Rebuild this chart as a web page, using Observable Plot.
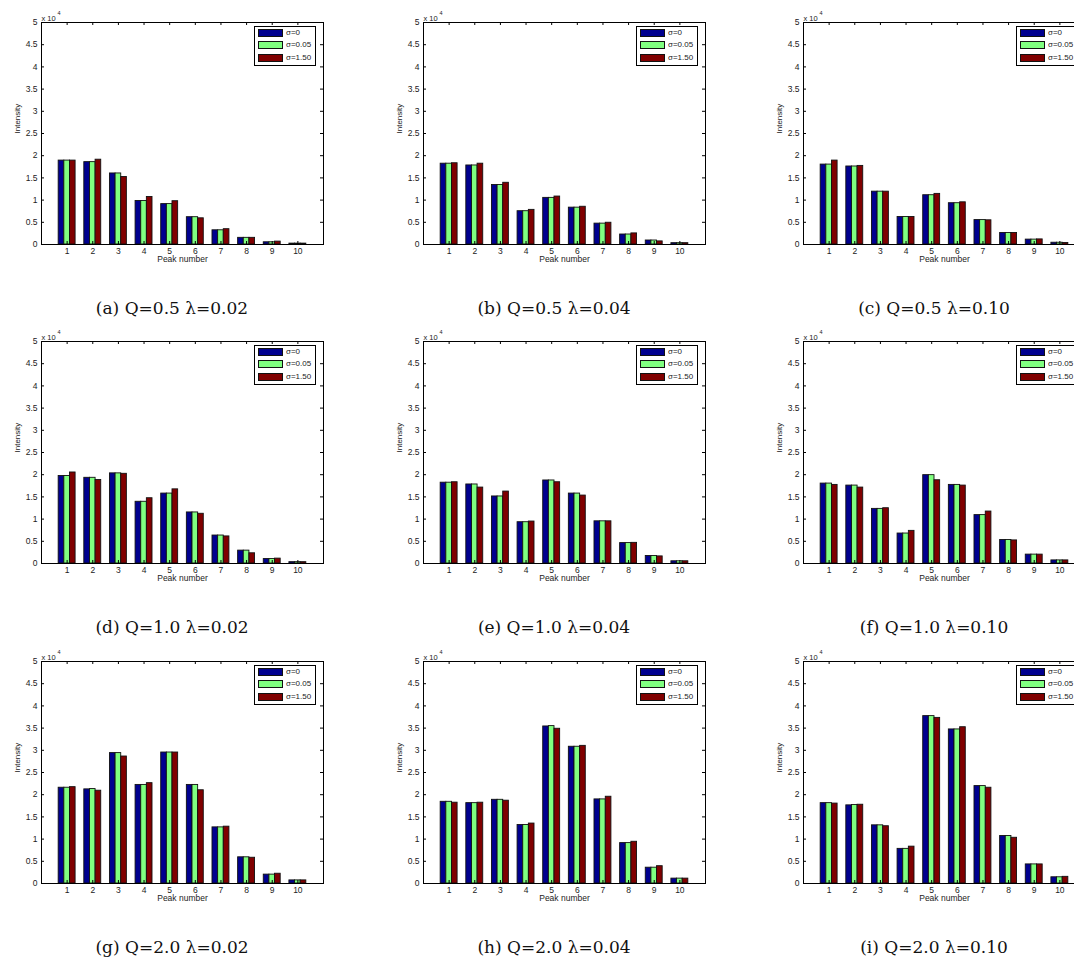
<!DOCTYPE html>
<html><head><meta charset="utf-8">
<script src="https://cdn.jsdelivr.net/npm/d3@7"></script>
<script src="https://cdn.jsdelivr.net/npm/@observablehq/plot@0.6"></script>
<style>
html,body{margin:0;padding:0;background:#fff;overflow:hidden;}
#root{position:relative;width:1074px;height:961px;overflow:hidden;background:#fff;}
.panel{position:absolute;}
.panel svg{max-width:none !important;}
.legend{position:absolute;border:1.5px solid #000;background:#fff;box-sizing:border-box;font-family:"Liberation Sans",Arial,sans-serif;font-size:8px;color:#222;}
.sw{position:absolute;width:25px;height:8px;border:1px solid #111;box-sizing:border-box;}
.lt{position:absolute;line-height:8px;white-space:nowrap;}
.caption{position:absolute;font-family:"DejaVu Serif","Liberation Serif",serif;font-size:17px;white-space:nowrap;transform:translate(-50%,-50%);color:#111;}
</style></head><body><div id="root"></div>
<script>
// ---- data (intensity in units of 10^4) ----
const peaks = [1,2,3,4,5,6,7,8,9,10];
const seriesLabels = ["σ=0","σ=0.05","σ=1.50"];
const seriesColors = ["#00008f","#80ff80","#800000"];
const yTicks = [0,0.5,1,1.5,2,2.5,3,3.5,4,4.5,5];
const yTickLabels = ["0","0.5","1","1.5","2","2.5","3","3.5","4","4.5","5"];
const captions = ["(a)  Q=0.5 λ=0.02","(b)  Q=0.5 λ=0.04","(c)  Q=0.5 λ=0.10",
                  "(d)  Q=1.0 λ=0.02","(e)  Q=1.0 λ=0.04","(f)  Q=1.0 λ=0.10",
                  "(g)  Q=2.0 λ=0.02","(h)  Q=2.0 λ=0.04","(i)  Q=2.0 λ=0.10"];

const a_s0 = [1.89,1.855,1.60,0.98,0.91,0.615,0.32,0.15,0.05,0.02];
const a_s1 = [1.89,1.855,1.60,0.98,0.91,0.615,0.32,0.15,0.05,0.02];
const a_s2 = [1.89,1.91,1.52,1.07,0.975,0.59,0.345,0.15,0.065,0.02];

const b_s0 = [1.82,1.78,1.34,0.75,1.05,0.83,0.47,0.225,0.09,0.03];
const b_s1 = [1.82,1.78,1.34,0.75,1.05,0.83,0.47,0.225,0.09,0.03];
const b_s2 = [1.83,1.82,1.39,0.78,1.08,0.85,0.49,0.25,0.07,0.03];

const c_s0 = [1.80,1.757,1.19,0.62,1.11,0.93,0.55,0.26,0.11,0.04];
const c_s1 = [1.80,1.757,1.19,0.62,1.11,0.93,0.55,0.26,0.11,0.04];
const c_s2 = [1.89,1.77,1.19,0.62,1.14,0.95,0.545,0.26,0.115,0.035];

const d_s0 = [1.97,1.93,2.03,1.39,1.575,1.15,0.63,0.29,0.10,0.03];
const d_s1 = [1.97,1.93,2.03,1.39,1.575,1.15,0.63,0.29,0.10,0.03];
const d_s2 = [2.05,1.88,2.02,1.47,1.67,1.12,0.61,0.23,0.11,0.03];

const e_s0 = [1.82,1.78,1.51,0.93,1.87,1.575,0.95,0.46,0.17,0.05];
const e_s1 = [1.82,1.78,1.51,0.93,1.87,1.575,0.95,0.46,0.17,0.05];
const e_s2 = [1.83,1.71,1.62,0.945,1.83,1.53,0.95,0.465,0.16,0.05];

const f_s0 = [1.80,1.755,1.23,0.675,1.99,1.77,1.09,0.53,0.20,0.07];
const f_s1 = [1.80,1.755,1.23,0.675,1.99,1.77,1.09,0.53,0.20,0.07];
const f_s2 = [1.77,1.71,1.245,0.735,1.875,1.755,1.17,0.52,0.20,0.07];

const g_s0 = [2.157,2.12,2.937,2.22,2.95,2.22,1.264,0.59,0.20,0.07];
const g_s1 = [2.157,2.127,2.937,2.22,2.95,2.22,1.264,0.59,0.20,0.07];
const g_s2 = [2.17,2.09,2.86,2.26,2.95,2.10,1.28,0.58,0.22,0.07];

const h_s0 = [1.84,1.81,1.885,1.317,3.537,3.08,1.894,0.91,0.356,0.11];
const h_s1 = [1.84,1.81,1.885,1.317,3.545,3.08,1.894,0.91,0.356,0.11];
const h_s2 = [1.82,1.82,1.865,1.35,3.485,3.10,1.954,0.94,0.39,0.11];

const i_s0 = [1.81,1.76,1.31,0.78,3.77,3.47,2.194,1.07,0.43,0.14];
const i_s1 = [1.81,1.767,1.31,0.78,3.77,3.47,2.194,1.07,0.43,0.14];
const i_s2 = [1.80,1.774,1.29,0.83,3.73,3.52,2.157,1.03,0.43,0.15];

const panels = [
  [a_s0,a_s1,a_s2],[b_s0,b_s1,b_s2],[c_s0,c_s1,c_s2],
  [d_s0,d_s1,d_s2],[e_s0,e_s1,e_s2],[f_s0,f_s1,f_s2],
  [g_s0,g_s1,g_s2],[h_s0,h_s1,h_s2],[i_s0,i_s1,i_s2]
];

// ---- layout ----
const colLeft = [0, 382, 762];
const rowTop = [0, 319, 639];
const W = 282, H = 222, ML = 41, MT = 22, MR = 12, MB = 30;
const barW = 0.22;
const root = document.getElementById("root");

panels.forEach((series, p) => {
  const col = p % 3, row = Math.floor(p / 3);
  const table = [];
  series.forEach((arr, s) => arr.forEach((v, k) => table.push({peak: peaks[k], s, label: seriesLabels[s], value: v})));
  const chart = Plot.plot({
    width: ML + W + MR, height: MT + H + MB,
    marginLeft: ML, marginTop: MT, marginRight: MR, marginBottom: MB,
    style: {fontFamily: "'Liberation Sans', Arial, sans-serif", fontSize: "8.5px", background: "#fff", color: "#222", overflow: "visible", maxWidth: "none"},
    x: {domain: [0, 11]},
    y: {domain: [0, 5]},
    color: {domain: seriesLabels, range: seriesColors},
    marks: [
      Plot.rectY(table, {
        x1: d => d.peak + (d.s - 1) * barW - barW / 2,
        x2: d => d.peak + (d.s - 1) * barW + barW / 2,
        y1: 0, y2: "value", fill: "label", stroke: "#111", strokeWidth: 0.9
      }),
      Plot.axisX({ticks: peaks, tickSize: 0, tickPadding: 3, label: null, tickFormat: d => String(d)}),
      Plot.axisY({ticks: yTicks, tickSize: 0, tickPadding: 4, label: null, tickFormat: d => yTickLabels[yTicks.indexOf(d)]}),
      Plot.tickX(peaks, {x: d => d, insetTop: H - 3, stroke: "#000"}),
      Plot.tickX(peaks, {x: d => d, insetBottom: H - 3, stroke: "#000"}),
      Plot.tickY(yTicks, {y: d => d, insetRight: W - 3, stroke: "#000"}),
      Plot.tickY(yTicks, {y: d => d, insetLeft: W - 3, stroke: "#000"}),
      Plot.frame({stroke: "#000", strokeWidth: 1}),
      Plot.text(["Intensity"], {text: d => d, frameAnchor: "left", dx: -24, rotate: -90, fontSize: 8}),
      Plot.text(["Peak number"], {text: d => d, frameAnchor: "bottom", dy: 17, fontSize: 8.5}),
      Plot.text(["x 10"], {text: d => d, frameAnchor: "top-left", textAnchor: "start", dy: -7, fontSize: 7.5}),
      Plot.text(["4"], {text: d => d, frameAnchor: "top-left", textAnchor: "start", dx: 16, dy: -11, fontSize: 5.5})
    ]
  });
  chart.style.maxWidth = "none";
  const wrap = document.createElement("div");
  wrap.className = "panel";
  wrap.style.left = colLeft[col] + "px";
  wrap.style.top = rowTop[row] + "px";
  wrap.style.width = (ML + W + MR) + "px";
  wrap.style.height = (MT + H + MB) + "px";
  wrap.appendChild(chart);
  root.appendChild(wrap);

  // legend
  const lg = document.createElement("div");
  lg.className = "legend";
  lg.style.left = (colLeft[col] + ML + 213) + "px";
  lg.style.top = (rowTop[row] + MT + 4) + "px";
  lg.style.width = "62px";
  lg.style.height = "40px";
  seriesLabels.forEach((lab, s) => {
    const sw = document.createElement("div");
    sw.className = "sw";
    sw.style.left = "3px";
    sw.style.top = (2 + s * 12.3) + "px";
    sw.style.background = seriesColors[s];
    lg.appendChild(sw);
    const t = document.createElement("div");
    t.className = "lt";
    t.style.left = "31px";
    t.style.top = (2 + s * 12.3) + "px";
    t.textContent = lab;
    lg.appendChild(t);
  });
  root.appendChild(lg);

  // caption
  const cap = document.createElement("div");
  cap.className = "caption";
  cap.style.left = (colLeft[col] + ML + W / 2 - 10) + "px";
  cap.style.top = (rowTop[row] + MT + H + 64) + "px";
  cap.textContent = captions[p];
  root.appendChild(cap);
});
</script>
</body></html>
